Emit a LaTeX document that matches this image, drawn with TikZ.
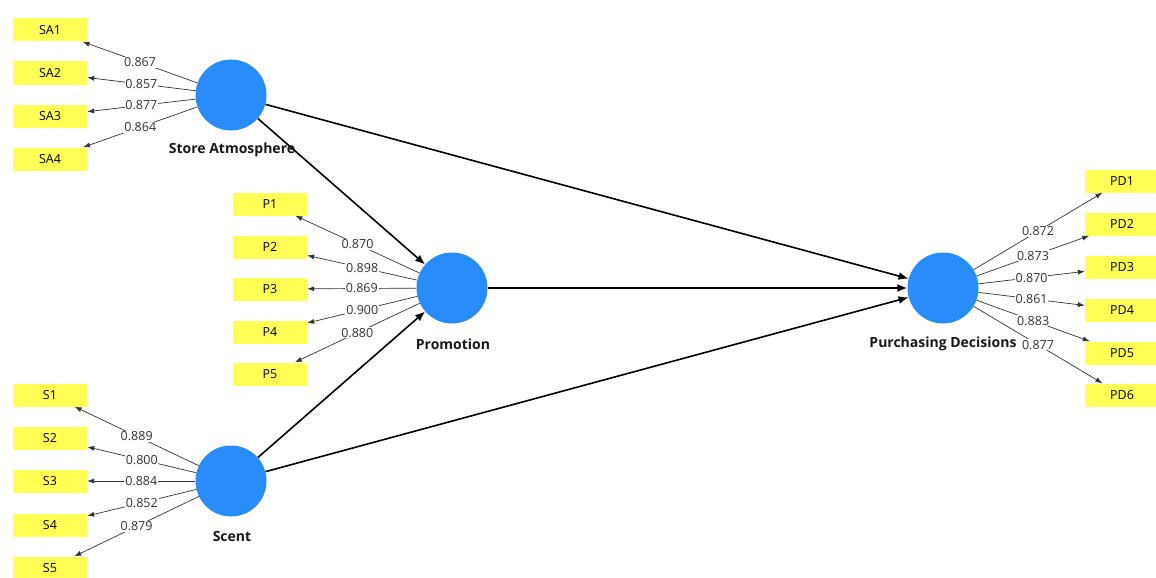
\documentclass[tikz,border=0pt]{standalone}
\usepackage{fontspec}
\setmainfont{Open Sans}
\usetikzlibrary{arrows.meta}
\definecolor{cblue}{RGB}{40,140,250}
\definecolor{cyel}{RGB}{255,255,85}
\tikzset{
  lv/.style={circle, fill=cblue, minimum size=71pt, inner sep=0pt},
  ind/.style={fill=cyel, minimum width=74pt, minimum height=23pt, inner sep=0pt, font=\fontsize{12.5}{14}\selectfont},
  load/.style={draw=black!80, line width=0.7pt, -{Latex[length=7pt,width=5pt]}},
  struct/.style={draw=black, line width=1.6pt, -{Latex[length=10pt,width=8pt]}},
  lab/.style={fill=white, inner sep=0.8pt, font=\fontsize{12.5}{14}\selectfont, text=black!80},
  lvname/.style={font=\bfseries\fontsize{14}{16}\selectfont, text=black!90}
}
\begin{document}
\begin{tikzpicture}[x=1pt,y=-1pt]
\useasboundingbox[fill=white] (0,0) rectangle (1156,578);
% latent variables
\node[lv] (SA) at (231,95) {};
\node[lv] (PR) at (452,288) {};
\node[lv] (SC) at (231,481) {};
\node[lv] (PD) at (943,288) {};
\node[lvname] (SAn) at (232,150) {Store Atmosphere};
\node[lvname] (PRn) at (453,344) {Promotion};
\node[lvname] (SCn) at (232,536) {Scent};
\node[lvname] (PDn) at (943,344) {Purchasing Decisions};
% indicators
\node[ind] (SA1) at (50,30) {SA1};
\node[ind] (SA2) at (50,73) {SA2};
\node[ind] (SA3) at (50,116) {SA3};
\node[ind] (SA4) at (50,159) {SA4};
\node[ind] (P1) at (270,204) {P1};
\node[ind] (P2) at (270,247) {P2};
\node[ind] (P3) at (270,289) {P3};
\node[ind] (P4) at (270,332) {P4};
\node[ind] (P5) at (270,374) {P5};
\node[ind] (S1) at (50,395) {S1};
\node[ind] (S2) at (50,438) {S2};
\node[ind] (S3) at (50,481) {S3};
\node[ind] (S4) at (50,525) {S4};
\node[ind] (S5) at (50,568) {S5};
\node[ind] (PD1) at (1122,181) {PD1};
\node[ind] (PD2) at (1122,224) {PD2};
\node[ind] (PD3) at (1122,267) {PD3};
\node[ind] (PD4) at (1122,310) {PD4};
\node[ind] (PD5) at (1122,353) {PD5};
\node[ind] (PD6) at (1122,395) {PD6};
% loadings
\draw[load] (SA) -- node[lab]{0.867} (SA1);
\draw[load] (SA) -- node[lab]{0.857} (SA2);
\draw[load] (SA) -- node[lab]{0.877} (SA3);
\draw[load] (SA) -- node[lab]{0.864} (SA4);
\draw[load] (PR) -- node[lab]{0.870} (P1);
\draw[load] (PR) -- node[lab]{0.898} (P2);
\draw[load] (PR) -- node[lab]{0.869} (P3);
\draw[load] (PR) -- node[lab]{0.900} (P4);
\draw[load] (PR) -- node[lab]{0.880} (P5);
\draw[load] (SC) -- node[lab]{0.889} (S1);
\draw[load] (SC) -- node[lab]{0.800} (S2);
\draw[load] (SC) -- node[lab]{0.884} (S3);
\draw[load] (SC) -- node[lab]{0.852} (S4);
\draw[load] (SC) -- node[lab]{0.879} (S5);
\draw[load] (PD) -- node[lab]{0.872} (PD1);
\draw[load] (PD) -- node[lab]{0.873} (PD2);
\draw[load] (PD) -- node[lab]{0.870} (PD3);
\draw[load] (PD) -- node[lab]{0.861} (PD4);
\draw[load] (PD) -- node[lab]{0.883} (PD5);
\draw[load] (PD) -- node[lab]{0.877} (PD6);
% structural paths
\draw[struct] (SA) -- (PR);
\draw[struct] (SA) -- (PD);
\draw[struct] (PR) -- (PD);
\draw[struct] (SC) -- (PR);
\draw[struct] (SC) -- (PD);
\end{tikzpicture}
\end{document}
